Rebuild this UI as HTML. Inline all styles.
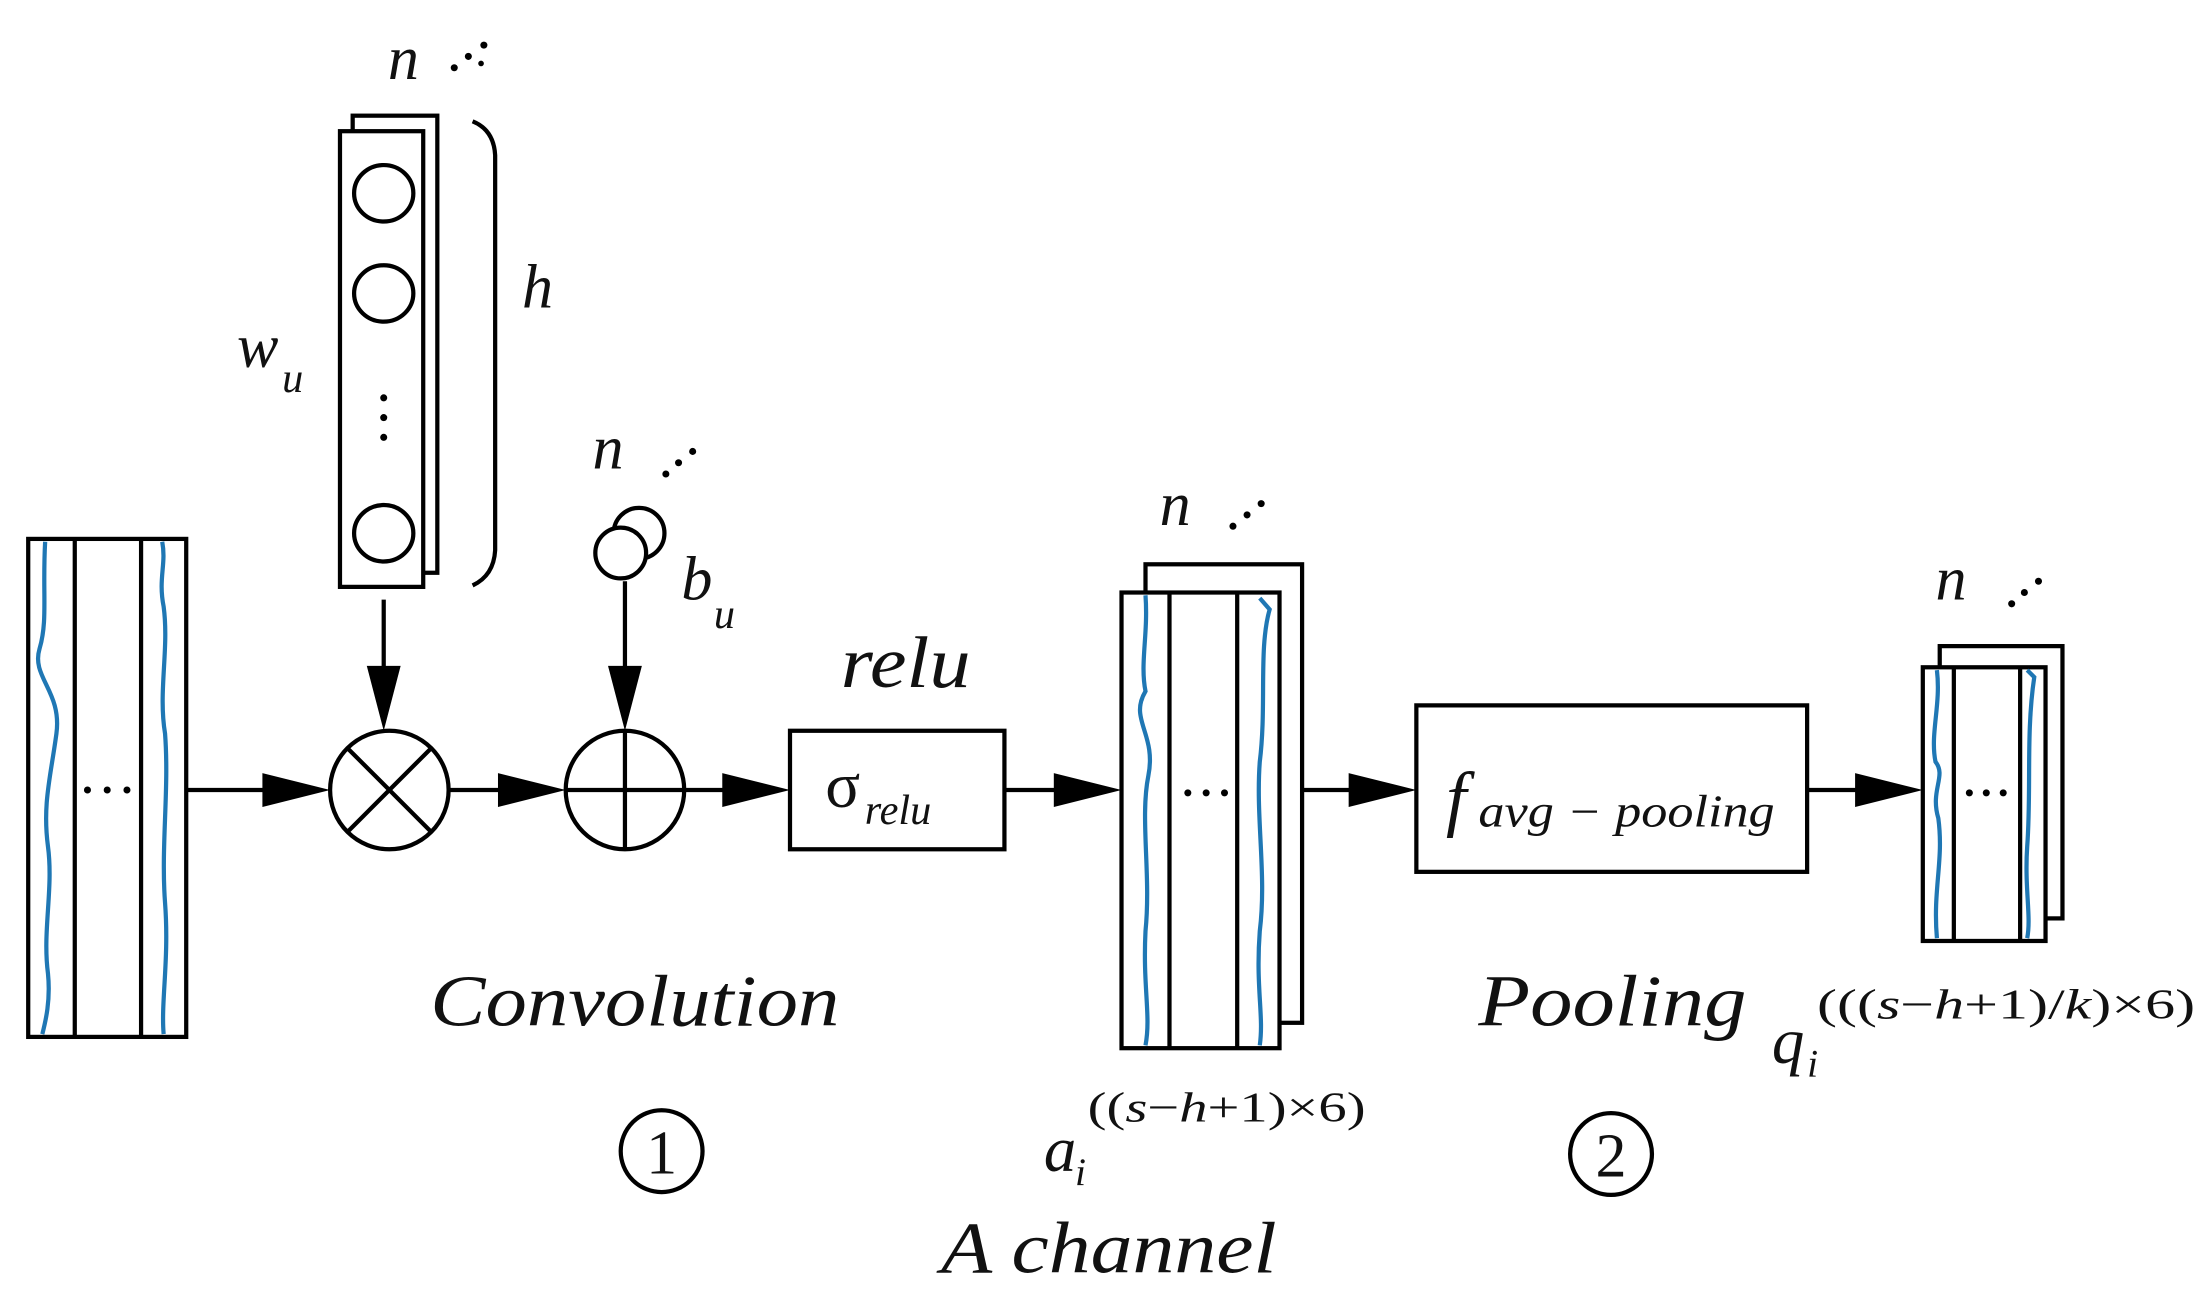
<!DOCTYPE html>
<html><head><meta charset="utf-8"><style>
html,body{margin:0;padding:0;background:#fff;}
svg{display:block;}
text{font-family:"Liberation Serif",serif;fill:#111;}
.i{font-style:italic;}
.n{font-style:normal;}
</style></head><body>
<svg width="2212" height="1312" viewBox="0 0 1568 930" preserveAspectRatio="none" xmlns="http://www.w3.org/2000/svg">
<g stroke="#000" stroke-width="3" fill="none">
<rect x="20" y="382" width="112" height="353" fill="#fff"/>
<line x1="53" y1="382" x2="53" y2="735"/>
<line x1="100" y1="382" x2="100" y2="735"/>
</g>
<g stroke="#1f77b4" stroke-width="3" fill="none">
<path d="M32 384 C30 420,34 440,28 460 C22 480,44 490,40 520 C36 550,30 570,34 600 C38 630,30 660,34 690 C36 710,32 725,30 733"/>
<path d="M115 384 C118 400,112 410,116 430 C120 460,112 490,117 520 C120 560,114 600,117 640 C120 680,114 710,116 733"/>
</g>
<g fill="#000"><circle cx="62" cy="560" r="2.5"/><circle cx="76" cy="560" r="2.5"/><circle cx="90" cy="560" r="2.5"/></g>

<g stroke="#000" stroke-width="3" fill="#fff">
<rect x="250" y="82" width="60" height="324"/>
<rect x="241" y="93" width="59" height="323"/>
<ellipse cx="272" cy="137" rx="21" ry="20"/>
<ellipse cx="272" cy="208" rx="21" ry="20"/>
<ellipse cx="272" cy="378" rx="21" ry="20"/>
</g>
<g fill="#000"><circle cx="272" cy="282" r="2.5"/><circle cx="272" cy="296" r="2.5"/><circle cx="272" cy="310" r="2.5"/></g>
<path d="M335 86 Q350 92 351 110 L351 390 Q350 408 335 415" stroke="#000" stroke-width="3" fill="none"/>

<g stroke="#000" stroke-width="3" fill="#fff">
<circle cx="453" cy="378" r="18"/>
<circle cx="440" cy="392" r="18"/>
</g>

<g stroke="#000" stroke-width="3" fill="#fff">
<circle cx="276" cy="560" r="42"/>
<circle cx="443" cy="560" r="42"/>
<rect x="560" y="518" width="152" height="84"/>
<rect x="812" y="400" width="111" height="325"/>
<rect x="795" y="420" width="112" height="323"/>
<rect x="1004" y="500" width="277" height="118"/>
<rect x="1375" y="458" width="87" height="193"/>
<rect x="1363" y="473" width="87" height="194"/>
</g>
<g stroke="#000" stroke-width="3">
<line x1="246" y1="530" x2="306" y2="590"/><line x1="306" y1="530" x2="246" y2="590"/>
<line x1="401" y1="560" x2="485" y2="560"/><line x1="443" y1="518" x2="443" y2="602"/>
<line x1="829" y1="420" x2="829" y2="743"/><line x1="877" y1="420" x2="877" y2="743"/>
<line x1="1385" y1="473" x2="1385" y2="667"/><line x1="1432" y1="473" x2="1432" y2="667"/>
</g>
<g stroke="#1f77b4" stroke-width="3" fill="none">
<path d="M812 422 C814 450,808 470,812 490 C800 510,820 520,814 550 C808 580,816 620,812 660 C810 700,816 720,812 741"/>
<path d="M893 424 L900 432 C892 460,898 500,893 540 C890 580,898 620,893 660 C890 700,896 720,893 741"/>
<path d="M1373 475 C1376 500,1368 520,1372 540 C1380 550,1368 560,1374 580 C1378 610,1370 630,1373 665"/>
<path d="M1437 475 L1442 480 C1436 520,1440 560,1437 600 C1435 630,1440 650,1437 665"/>
</g>
<g fill="#000">
<circle cx="842" cy="562" r="2.5"/><circle cx="855" cy="562" r="2.5"/><circle cx="868" cy="562" r="2.5"/>
<circle cx="1396" cy="562" r="2.5"/><circle cx="1408" cy="562" r="2.5"/><circle cx="1420" cy="562" r="2.5"/>
</g>

<g stroke="#000" stroke-width="3">
<line x1="132" y1="560" x2="200" y2="560"/>
<line x1="318" y1="560" x2="370" y2="560"/>
<line x1="485" y1="560" x2="525" y2="560"/>
<line x1="712" y1="560" x2="762" y2="560"/>
<line x1="923" y1="560" x2="970" y2="560"/>
<line x1="1281" y1="560" x2="1330" y2="560"/>
<line x1="272" y1="425" x2="272" y2="485"/>
<line x1="443" y1="412" x2="443" y2="485"/>
</g>
<g fill="#000">
<polygon points="234,560 186,548 186,572"/>
<polygon points="401,560 353,548 353,572"/>
<polygon points="560,560 512,548 512,572"/>
<polygon points="795,560 747,548 747,572"/>
<polygon points="1004,560 956,548 956,572"/>
<polygon points="1363,560 1315,548 1315,572"/>
<polygon points="272,518 260,472 284,472"/>
<polygon points="443,518 431,472 455,472"/>
</g>

<g fill="#000">
<circle cx="322" cy="48" r="2.5"/><circle cx="332" cy="40" r="2.5"/><circle cx="343" cy="32" r="2.5"/><circle cx="341" cy="45" r="2"/>
<circle cx="472" cy="336" r="2.5"/><circle cx="481" cy="328" r="2.5"/><circle cx="491" cy="320" r="2.5"/>
<circle cx="874" cy="373" r="2.5"/><circle cx="884" cy="365" r="2.5"/><circle cx="894" cy="357" r="2.5"/>
<circle cx="1426" cy="428" r="2.5"/><circle cx="1435" cy="420" r="2.5"/><circle cx="1445" cy="412" r="2.5"/>
</g>

<text class="i" x="275" y="56" font-size="44">n</text>
<text class="i" x="370" y="218" font-size="44">h</text>
<text class="i" x="168" y="260" font-size="44">w</text><text class="i" x="200" y="278" font-size="30">u</text>
<text class="i" x="420" y="332" font-size="44">n</text>
<text class="i" x="483" y="425" font-size="44">b</text><text class="i" x="506" y="445" font-size="30">u</text>
<text class="i" x="596" y="487" font-size="52" textLength="92" lengthAdjust="spacingAndGlyphs">relu</text>
<text class="n" x="585" y="572" font-size="46">σ</text><text class="i" x="613" y="584" font-size="30">relu</text>
<text class="i" x="822" y="372" font-size="44">n</text>
<text class="i" x="1372" y="425" font-size="44">n</text>
<text class="i" x="1025" y="583" font-size="52">f</text><text class="i" x="1048" y="586" font-size="32" textLength="210" lengthAdjust="spacingAndGlyphs">avg − pooling</text>
<text class="i" x="305" y="727" font-size="52" textLength="290" lengthAdjust="spacingAndGlyphs">Convolution</text>
<text class="i" x="1048" y="727" font-size="52" textLength="190" lengthAdjust="spacingAndGlyphs">Pooling</text>
<text class="i" x="740" y="830" font-size="46">a</text><text class="i" x="762" y="840" font-size="28">i</text><text class="n" x="771" y="795" font-size="30" textLength="197" lengthAdjust="spacingAndGlyphs">((<tspan class="i">s</tspan>−<tspan class="i">h</tspan>+1)×6)</text>
<text class="i" x="1256" y="753" font-size="46">q</text><text class="i" x="1281" y="763" font-size="28">i</text><text class="n" x="1288" y="722" font-size="30" textLength="268" lengthAdjust="spacingAndGlyphs">(((<tspan class="i">s</tspan>−<tspan class="i">h</tspan>+1)/<tspan class="i">k</tspan>)×6)</text>
<text class="i" x="667" y="902" font-size="52" textLength="238" lengthAdjust="spacingAndGlyphs">A channel</text>
<circle cx="469" cy="816" r="29" stroke="#000" stroke-width="3" fill="none"/>
<text class="n" x="469" y="832" font-size="44" text-anchor="middle">1</text>
<circle cx="1142" cy="818" r="29" stroke="#000" stroke-width="3" fill="none"/>
<text class="n" x="1142" y="834" font-size="44" text-anchor="middle">2</text>
</svg>
</body></html>
